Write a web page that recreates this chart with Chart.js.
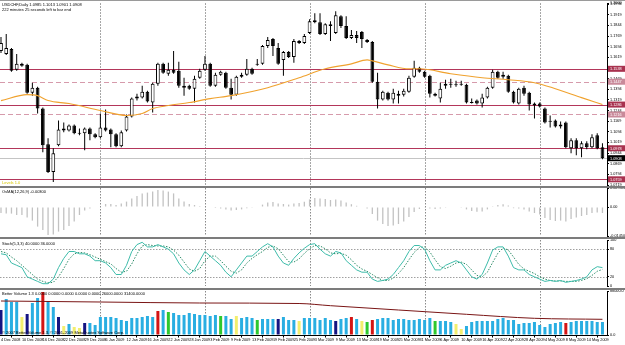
<!DOCTYPE html>
<html><head><meta charset="utf-8">
<script src="https://cdn.jsdelivr.net/npm/chart.js@4.4.1/dist/chart.umd.min.js"></script>
<style>
html,body{margin:0;padding:0;background:#fff;width:625px;height:345px;overflow:hidden;}
#wrap{position:relative;width:625px;height:345px;}
canvas{position:absolute;left:0;}
.t{position:absolute;font-family:'Liberation Sans',Arial,sans-serif;font-size:4px;line-height:5px;white-space:nowrap;color:#000;z-index:6;}
.sep{position:absolute;left:0;width:625px;height:2px;background:#7c7c7c;z-index:5;}
</style></head><body>
<div id="wrap">
<canvas id="cMain" width="625" height="192" style="top:0px"></canvas>
<canvas id="cOsma" width="625" height="60" style="top:182px"></canvas>
<canvas id="cStoch" width="625" height="58" style="top:234px"></canvas>
<canvas id="cVol" width="625" height="60" style="top:285px"></canvas>
<div class="sep" style="top:0px;height:1px;background:#9a9a9a"></div>
<div class="sep" style="top:186px"></div>
<div class="sep" style="top:237px"></div>
<div class="sep" style="top:288px"></div>
<div class="t" id="hdr1" style="left:2px;top:2px"></div>
<div class="t" style="left:2px;top:7px">222 minutes 25 seconds left to bar end</div>
<div class="t" style="left:2px;top:180px;color:#d8c800">Levels 1.0</div>
<div class="t" id="hdrOsma" style="left:2px;top:189px"></div>
<div class="t" id="hdrStoch" style="left:2px;top:241px"></div>
<div class="t" id="hdrVol" style="left:2px;top:291px"></div>
<div class="t" style="left:2px;top:330px">© 2007 Better Volume 1.3, © 2001-2009 MetaQuotes Software Corp.</div>
</div>
<script>
// ---------------- DATA ----------------
const tradingMonths = ['Dec 2008','Jan 2009','Feb 2009','Mar 2009','Apr 2009','May 2009'];
const tradingDays = [
 [4,5,8,9,10,11,12,15,16,17,18,19,22,23,24,26,29,30,31],
 [5,6,7,8,9,12,13,14,15,16,19,20,21,22,23,26,27,28,29,30],
 [2,3,4,5,6,9,10,11,12,13,16,17,18,19,20,23,24,25,26,27],
 [2,3,4,5,6,9,10,11,12,13,16,17,18,19,20,23,24,25,26,27,30,31],
 [1,2,3,6,7,8,9,10,13,14,15,16,17,20,21,22,23,24,27,28,29,30],
 [1,4,5,6,7,8,11,12,13,14,15,18,19]
];
const open = [
1.1664,1.1643,1.1678,1.1531,1.1573,1.1566,1.1370,1.1405,1.1258,1.1006,
1.0810,1.0999,1.1104,1.1104,1.1139,1.1083,1.1083,1.1118,1.1076,1.1055,
1.1125,1.1111,1.1076,1.0992,1.1104,1.1202,1.1328,1.1335,1.1377,1.1300,
1.1433,1.1573,1.1503,1.1531,1.1524,1.1405,1.1419,1.1398,1.1475,1.1531,
1.1573,1.1419,1.1496,1.1510,1.1405,1.1356,1.1482,1.1496,1.1538,1.1566,
1.1573,1.1699,1.1748,1.1685,1.1601,1.1657,1.1622,1.1734,1.1720,1.1790,
1.1881,1.1867,1.1783,1.1853,1.1790,1.1909,1.1839,1.1755,1.1776,1.1797,
1.1727,1.1727,1.1447,1.1321,1.1370,1.1321,1.1349,1.1356,1.1377,1.1482,
1.1545,1.1517,1.1489,1.1363,1.1328,1.1419,1.1426,1.1426,1.1426,1.1426,
1.1300,1.1314,1.1293,1.1335,1.1405,1.1517,1.1482,1.1489,1.1377,1.1293,
1.1405,1.1370,1.1279,1.1293,1.1258,1.1167,1.1174,1.1132,1.1160,1.0978,
1.1034,1.0978,1.1013,1.0985,1.1069,1.0985];
const high = [
1.1762,1.1783,1.1685,1.1643,1.1580,1.1573,1.1440,1.1412,1.1265,1.1048,
1.0978,1.1174,1.1160,1.1146,1.1146,1.1118,1.1125,1.1125,1.1083,1.1223,
1.1251,1.1118,1.1083,1.1104,1.1216,1.1335,1.1363,1.1419,1.1384,1.1440,
1.1580,1.1580,1.1580,1.1664,1.1587,1.1475,1.1426,1.1489,1.1538,1.1629,
1.1580,1.1510,1.1524,1.1517,1.1468,1.1489,1.1510,1.1608,1.1545,1.1608,
1.1706,1.1762,1.1755,1.1720,1.1664,1.1664,1.1748,1.1741,1.1783,1.1888,
1.1930,1.1930,1.1860,1.1874,1.1944,1.1916,1.1909,1.1811,1.1804,1.1804,
1.1748,1.1734,1.1510,1.1384,1.1377,1.1398,1.1384,1.1398,1.1489,1.1594,
1.1552,1.1524,1.1496,1.1370,1.1440,1.1461,1.1468,1.1454,1.1454,1.1433,
1.1328,1.1321,1.1363,1.1412,1.1531,1.1524,1.1517,1.1496,1.1384,1.1405,
1.1419,1.1377,1.1300,1.1300,1.1265,1.1209,1.1181,1.1167,1.1167,1.1048,
1.1048,1.1027,1.1027,1.1076,1.1083,1.1013];
const low = [
1.1650,1.1636,1.1517,1.1524,1.1552,1.1363,1.1349,1.1223,1.0950,1.0803,
1.0740,1.0992,1.1090,1.1097,1.1076,1.1069,1.0964,1.1034,1.1048,1.1048,
1.1097,1.0985,1.0985,1.0985,1.1097,1.1195,1.1314,1.1328,1.1300,1.1230,
1.1419,1.1503,1.1489,1.1503,1.1405,1.1349,1.1391,1.1300,1.1468,1.1524,
1.1412,1.1412,1.1489,1.1398,1.1321,1.1349,1.1475,1.1489,1.1496,1.1559,
1.1566,1.1685,1.1629,1.1566,1.1489,1.1615,1.1580,1.1713,1.1713,1.1783,
1.1860,1.1776,1.1776,1.1734,1.1783,1.1825,1.1748,1.1748,1.1720,1.1685,
1.1720,1.1440,1.1258,1.1314,1.1314,1.1293,1.1293,1.1342,1.1370,1.1475,
1.1510,1.1475,1.1335,1.1342,1.1300,1.1398,1.1405,1.1412,1.1419,1.1293,
1.1293,1.1286,1.1265,1.1328,1.1398,1.1468,1.1468,1.1370,1.1293,1.1286,
1.1349,1.1244,1.1188,1.1265,1.1153,1.1125,1.1125,1.1118,1.0978,1.0943,
1.0929,1.0915,1.0971,1.0978,1.0971,1.0901];
const close = [
1.1720,1.1685,1.1524,1.1573,1.1559,1.1370,1.1405,1.1258,1.0999,1.0810,
1.0943,1.1111,1.1118,1.1139,1.1083,1.1080,1.1118,1.1076,1.1055,1.1125,
1.1104,1.1076,1.0992,1.1090,1.1202,1.1328,1.1342,1.1377,1.1307,1.1433,
1.1573,1.1510,1.1531,1.1510,1.1419,1.1419,1.1398,1.1468,1.1524,1.1573,
1.1419,1.1496,1.1517,1.1405,1.1356,1.1482,1.1496,1.1538,1.1503,1.1573,
1.1699,1.1741,1.1699,1.1573,1.1657,1.1622,1.1734,1.1720,1.1769,1.1874,
1.1867,1.1783,1.1853,1.1839,1.1916,1.1839,1.1755,1.1776,1.1755,1.1748,
1.1741,1.1447,1.1321,1.1377,1.1321,1.1370,1.1363,1.1384,1.1475,1.1545,
1.1517,1.1482,1.1363,1.1349,1.1398,1.1433,1.1429,1.1423,1.1429,1.1300,
1.1297,1.1293,1.1335,1.1405,1.1517,1.1475,1.1496,1.1377,1.1300,1.1398,
1.1363,1.1286,1.1293,1.1272,1.1160,1.1164,1.1132,1.1146,1.0985,1.1034,
1.0978,1.1013,1.0985,1.1055,1.0978,1.0908];
// moving average read at selected bars
const maBars   = [0,5,7,9,13,19,24,27,29,32,36,40,44,51,57,62,67,70,71,74,78,80,86,92,97,102,106,111,115];
const maValues = [1.1314,1.1356,1.1349,1.1314,1.1293,1.1244,1.1209,1.1223,1.1258,1.1279,1.1300,1.1328,1.1349,1.1405,1.1475,1.1538,1.1573,1.1601,1.1594,1.1566,1.1538,1.1538,1.1503,1.1475,1.1461,1.1440,1.1398,1.1335,1.1286];
const solidLevels  = [1.1538, 1.1286, 1.0978, 1.0759];
const dashedLevels = [1.1447, 1.1216];
const osma = [
-0.0030,-0.0033,-0.0033,-0.0040,-0.0040,-0.0052,-0.0068,-0.0098,-0.0115,-0.0140,
-0.0137,-0.0123,-0.0115,-0.0095,-0.0073,-0.0040,-0.0018,-0.0007,-0.0003,0.0002,
0.0015,0.0015,0.0010,0.0018,0.0027,0.0043,0.0055,0.0068,0.0072,0.0077,
0.0085,0.0082,0.0077,0.0068,0.0043,0.0027,0.0015,0.0010,0.0005,0.0003,
-0.0002,-0.0005,-0.0008,-0.0012,-0.0018,-0.0015,-0.0012,-0.0006,-0.0004,0.0002,
0.0012,0.0022,0.0025,0.0018,0.0015,0.0012,0.0018,0.0020,0.0026,0.0038,
0.0045,0.0042,0.0040,0.0035,0.0038,0.0032,0.0022,0.0014,0.0006,-0.0002,
-0.0008,-0.0035,-0.0068,-0.0085,-0.0095,-0.0092,-0.0085,-0.0072,-0.0050,-0.0025,
-0.0010,-0.0002,-0.0008,-0.0010,-0.0008,-0.0004,-0.0002,-0.0002,-0.0001,-0.0012,
-0.0020,-0.0024,-0.0022,-0.0012,0.0004,0.0010,0.0014,0.0008,-0.0006,-0.0008,
-0.0012,-0.0022,-0.0030,-0.0038,-0.0055,-0.0065,-0.0070,-0.0068,-0.0072,-0.0060,
-0.0052,-0.0045,-0.0040,-0.0030,-0.0028,-0.0030];
const stochMain = [
70,68,50,45,40,20,15,10,5,5,
15,40,60,75,75,70,70,65,55,55,
50,40,25,25,45,75,90,95,85,85,
90,85,80,70,50,35,25,35,55,75,
65,55,45,30,20,35,50,65,65,75,
85,92,85,65,50,45,60,72,82,90,
92,80,70,65,75,72,55,45,35,30,
30,15,10,12,15,25,40,55,75,88,
88,80,55,35,35,45,50,55,50,35,
20,15,25,50,78,85,85,65,40,35,
35,25,20,15,10,12,10,12,8,10,
12,15,20,35,42,40];
const stochSignal = [
75,72,63,55,45,35,25,15,10,7,
8,20,38,58,70,73,72,68,63,58,
53,48,38,30,32,48,70,87,90,88,
87,87,85,78,67,52,37,32,38,55,
65,65,55,43,32,28,35,50,60,68,
75,84,87,81,67,53,52,59,71,81,
88,87,81,72,70,71,67,57,45,37,
32,25,18,12,12,17,27,40,57,73,
84,85,74,57,42,38,43,50,52,47,
35,23,20,30,51,71,83,78,63,47,
37,32,27,20,15,12,11,11,10,10,
10,12,16,23,32,36];
const stochLevels = [20, 80];
const volume = [
50000,72000,66000,66000,36000,42000,64000,74000,86000,68000,
56000,36000,18000,22000,16000,14000,24000,24000,20000,36000,
36000,36000,34000,30000,28000,34000,34000,36000,38000,36000,
48000,50000,46000,44000,40000,40000,44000,42000,40000,40000,
38000,40000,38000,38000,32000,38000,34000,36000,34000,30000,
32000,32000,32000,32000,36000,30000,30000,28000,34000,34000,
34000,30000,34000,30000,28000,32000,34000,36000,32000,28000,
26000,30000,32000,34000,34000,30000,32000,32000,30000,30000,
32000,30000,34000,28000,28000,28000,26000,22000,12000,18000,
26000,28000,28000,28000,28000,32000,34000,30000,30000,22000,
24000,24000,26000,20000,16000,22000,24000,26000,24000,26000,
28000,28000,28000,28000,26000,26000];
// Better Volume class per bar: n normal, l low, c climax, h churn, d climax down
const volumeClass = ('dnnnldnncn'+'ndlnlldnnn'+'nnnnnnnnnn'+'cnhnnnnnnn'+'nnhnnlnnnh'+
  'nnndnnnlnn'+'nnnndnncnl'+'hcnnnnnnnn'+'nnnhnnnlln'+'nnnnnnnnnn'+'nnnnnnnncn'+'nnnnnn').split('');
const volMaBars   = [0,19,38,57,63,76,89,102,115];
const volMaValues = [68000,66000,64000,63000,58600,50000,41400,33400,31400];

// ---------------- SETUP ----------------
const dates = tradingDays.flatMap((days,m)=>days.map(d=>d+' '+tradingMonths[m]));
const monthOf = tradingDays.flatMap((days,m)=>days.map(()=>m));
const N = dates.length;
const bars = dates.map((_,i)=>i);
const monthStarts = bars.filter(i=>i>0 && monthOf[i]!==monthOf[i-1]);
const labelEvery = 4;
const tickBars = bars.filter(i=>i%labelEvery===0);
const last = N-1;

const FONT = "'Liberation Sans', Arial, sans-serif";
const TF = {size:3.8, family:FONT};
const X_MIN = -0.19, X_MAX = 115.87;

document.getElementById('hdr1').textContent =
  'USDCHF,Daily  '+[open[last],high[last],low[last],close[last]].map(v=>v.toFixed(4)).join(' ');
document.getElementById('hdrOsma').textContent = 'OsMA(12,26,9) '+osma[last].toFixed(5);
document.getElementById('hdrStoch').textContent = 'Stoch(5,3,3) '+stochMain[last].toFixed(4)+' '+stochSignal[last].toFixed(4);
document.getElementById('hdrVol').textContent = 'Better Volume 1.3 0.0000 0.0000 0.0000 0.0000 0.0000 '+
  volume[last].toFixed(4)+' '+volMaValues[volMaValues.length-1].toFixed(4);

function xScale(show){
  return {
    type:'linear', min:X_MIN, max:X_MAX, offset:false, bounds:'data', display:show,
    grid:{display:true, drawOnChartArea:false, drawTicks:true, tickLength:2.5, color:'#000'},
    border:{display:show, color:'#000'},
    afterBuildTicks:s=>{ s.ticks = tickBars.map(v=>({value:v})); },
    afterFit:s=>{ s.height = show ? 10 : 0; },
    ticks:{autoSkip:false, maxRotation:0, minRotation:0, align:'start', padding:0.5, font:TF, color:'#000',
      callback:v=>dates[v] ?? ''}
  };
}
function yScale(extra, ticksExtra){
  return Object.assign({
    type:'linear', position:'right', bounds:'data',
    grid:{drawOnChartArea:false, drawTicks:true, tickLength:2, color:'#000'},
    border:{display:true, color:'#000'},
    afterFit:s=>{ s.width = 18; },
    ticks:Object.assign({font:TF, color:'#000', padding:1, autoSkip:false, includeBounds:false}, ticksExtra||{})
  }, extra);
}
const baseOpts = (padTop, padBottom) => ({
  responsive:false, animation:false, events:[],
  layout:{padding:{top:padTop,bottom:padBottom,left:0,right:0}, autoPadding:false},
  plugins:{legend:{display:false}, tooltip:{enabled:false}, title:{display:false}}
});

const monthGrid = {id:'monthGrid', beforeDatasetsDraw(chart){
  const {ctx, chartArea:a, scales:{x}} = chart;
  ctx.save(); ctx.strokeStyle='#8a8a8a'; ctx.lineWidth=1; ctx.setLineDash([1.5,1.5]);
  monthStarts.forEach(i=>{
    const px = Math.round(x.getPixelForValue(i))+0.5;
    ctx.beginPath(); ctx.moveTo(px,a.top); ctx.lineTo(px,a.bottom); ctx.stroke();
  });
  ctx.restore();
}};

function hline(ctx,a,py,color,dash,w){
  ctx.save(); ctx.strokeStyle=color; ctx.lineWidth=w||1; ctx.setLineDash(dash||[]);
  ctx.beginPath(); ctx.moveTo(a.left,py); ctx.lineTo(a.right,py); ctx.stroke(); ctx.restore();
}
function priceBox(ctx,a,py,txt,bg){
  ctx.save(); ctx.fillStyle=bg; ctx.fillRect(a.right+1, py-3, 625-a.right-1, 6);
  ctx.fillStyle='#fff'; ctx.font='3.8px '+FONT; ctx.textBaseline='middle'; ctx.textAlign='left';
  ctx.fillText(txt, a.right+3, py+0.3); ctx.restore();
}
const levelsPlugin = {id:'levels',
  beforeDatasetsDraw(chart){
    const {ctx, chartArea:a, scales:{y}} = chart;
    hline(ctx,a,Math.round(y.getPixelForValue(close[last]))+0.5,'#c4c4c4');
    dashedLevels.forEach(v=>hline(ctx,a,Math.round(y.getPixelForValue(v))+0.5,'#d69aab',[5,3]));
    solidLevels.forEach(v=>hline(ctx,a,Math.round(y.getPixelForValue(v))+0.5,'#b3365a',[],1.2));
  },
  afterDraw(chart){
    const {ctx, chartArea:a, scales:{y}} = chart;
    dashedLevels.forEach(v=>priceBox(ctx,a,y.getPixelForValue(v),v.toFixed(4),'#c98a9a'));
    solidLevels.forEach(v=>priceBox(ctx,a,y.getPixelForValue(v),v.toFixed(4),'#a8324f'));
    priceBox(ctx,a,y.getPixelForValue(close[last]),close[last].toFixed(4),'#000');
  }
};
const stochLevelPlugin = {id:'stochLevels', beforeDatasetsDraw(chart){
  const {ctx, chartArea:a, scales:{y}} = chart;
  stochLevels.forEach(v=>hline(ctx,a,Math.round(y.getPixelForValue(v))+0.5,'#a0a0a0',[1.5,1.5]));
}};

// ---------------- MAIN PRICE PANE ----------------
new Chart(document.getElementById('cMain'), {
  type:'bar',
  data:{datasets:[
    {type:'line', data:maBars.map((b,k)=>({x:b,y:maValues[k]})), borderColor:'#f0a22e', borderWidth:1.1,
      pointRadius:0, cubicInterpolationMode:'monotone', order:0},
    {data:bars.map(i=>({x:i,y:[open[i],close[i]]})),
      backgroundColor:bars.map(i=>close[i]>=open[i]?'#ffffff':'#000000'),
      borderColor:'#000', borderWidth:1, borderSkipped:false, grouped:false, maxBarThickness:4, minBarLength:1, order:1},
    {data:bars.map(i=>({x:i,y:[low[i],high[i]]})), backgroundColor:'#000', borderWidth:0,
      grouped:false, maxBarThickness:1, order:2}
  ]},
  options:Object.assign(baseOpts(2,7), {scales:{
    x:xScale(false),
    y:yScale({min:1.0719, max:1.2000}, {stepSize:0.0075, callback:v=>v.toFixed(4)})
  }}),
  plugins:[monthGrid, levelsPlugin]
});

// ---------------- OsMA PANE ----------------
const OSMA_MIN = -0.0145, OSMA_MAX = 0.0095;
new Chart(document.getElementById('cOsma'), {
  type:'bar',
  data:{datasets:[{data:bars.map(i=>({x:i,y:osma[i]})), backgroundColor:'#c2c2c2', borderWidth:0,
    grouped:false, maxBarThickness:1.3}]},
  options:Object.assign(baseOpts(6,6), {scales:{
    x:xScale(false),
    y:yScale({min:OSMA_MIN, max:OSMA_MAX, afterBuildTicks:s=>{s.ticks=[{value:OSMA_MIN},{value:0},{value:OSMA_MAX}];}},
      {callback:v=>v===0?'0.00':v.toFixed(6)})
  }}),
  plugins:[monthGrid]
});

// ---------------- STOCHASTIC PANE ----------------
new Chart(document.getElementById('cStoch'), {
  type:'line',
  data:{datasets:[
    {data:bars.map(i=>({x:i,y:stochMain[i]})), borderColor:'#3dbcaa', borderWidth:1, pointRadius:0, tension:0},
    {data:bars.map(i=>({x:i,y:stochSignal[i]})), borderColor:'#2a8a66', borderWidth:1, borderDash:[1.5,1.5], pointRadius:0, tension:0}
  ]},
  options:Object.assign(baseOpts(6,6), {scales:{
    x:xScale(false),
    y:yScale({min:0, max:100, afterBuildTicks:s=>{s.ticks=[0,20,80,100].map(v=>({value:v}));}},
      {callback:v=>String(v)})
  }}),
  plugins:[monthGrid, stochLevelPlugin]
});

// ---------------- VOLUME PANE ----------------
const volumeStyle = {n:'#29aee2', l:'#f2ee6e', c:'#d41414', h:'#2ec82e', d:'#141482'};
const VOL_MAX = 88000;
new Chart(document.getElementById('cVol'), {
  type:'bar',
  data:{datasets:[
    {type:'line', data:volMaBars.map((b,k)=>({x:b,y:volMaValues[k]})), borderColor:'#7a1515', borderWidth:1,
      pointRadius:0, cubicInterpolationMode:'monotone', order:0},
    {data:bars.map(i=>({x:i,y:volume[i]})), backgroundColor:bars.map(i=>volumeStyle[volumeClass[i]]),
      borderWidth:0, grouped:false, maxBarThickness:3, order:1}
  ]},
  options:Object.assign(baseOpts(6,0), {scales:{
    x:xScale(true),
    y:yScale({min:0, max:VOL_MAX, afterBuildTicks:s=>{s.ticks=[{value:0},{value:VOL_MAX}];}},
      {callback:v=>v.toFixed(1)})
  }}),
  plugins:[monthGrid]
});
</script>
</body></html>
